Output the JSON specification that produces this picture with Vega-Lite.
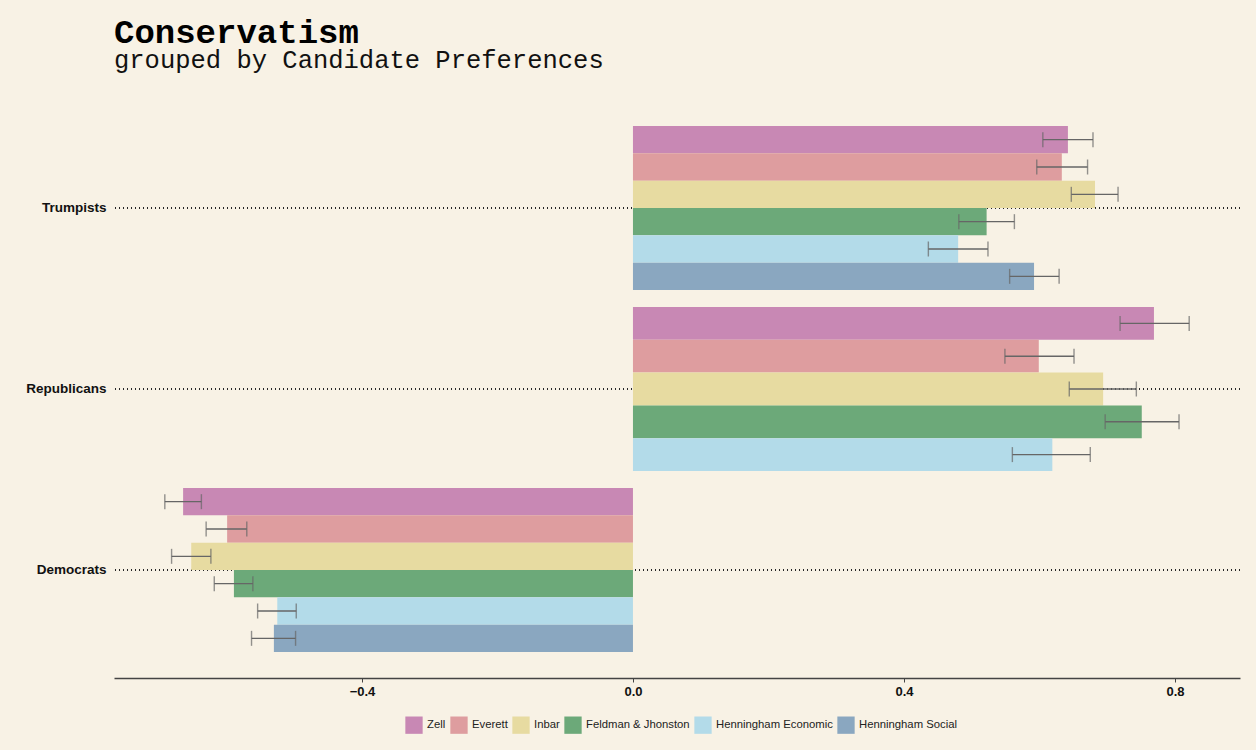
{
  "$schema": "https://vega.github.io/schema/vega-lite/v6.json",
  "background": "#F8F2E5",
  "padding": {"left": 25, "top": 15, "right": 15, "bottom": 16},
  "title": {
    "text": "Conservatism",
    "subtitle": "grouped by Candidate Preferences",
    "anchor": "start",
    "frame": "group",
    "font": "Liberation Mono",
    "fontSize": 34,
    "fontWeight": "bold",
    "color": "#000000",
    "subtitleFont": "Liberation Mono",
    "subtitleFontSize": 25.5,
    "subtitleColor": "#111111",
    "subtitlePadding": -2,
    "offset": 53
  },
  "data": {
    "values": [
      {"group": "Trumpists", "candidate": "Zell", "value": 0.642, "lo": 0.605, "hi": 0.679},
      {"group": "Trumpists", "candidate": "Everett", "value": 0.633, "lo": 0.596, "hi": 0.671},
      {"group": "Trumpists", "candidate": "Inbar", "value": 0.682, "lo": 0.647, "hi": 0.716},
      {"group": "Trumpists", "candidate": "Feldman & Jhonston", "value": 0.522, "lo": 0.481, "hi": 0.563},
      {"group": "Trumpists", "candidate": "Henningham Economic", "value": 0.480, "lo": 0.436, "hi": 0.524},
      {"group": "Trumpists", "candidate": "Henningham Social", "value": 0.592, "lo": 0.556, "hi": 0.629},
      {"group": "Republicans", "candidate": "Zell", "value": 0.769, "lo": 0.719, "hi": 0.821},
      {"group": "Republicans", "candidate": "Everett", "value": 0.599, "lo": 0.549, "hi": 0.651},
      {"group": "Republicans", "candidate": "Inbar", "value": 0.694, "lo": 0.644, "hi": 0.743},
      {"group": "Republicans", "candidate": "Feldman & Jhonston", "value": 0.751, "lo": 0.697, "hi": 0.806},
      {"group": "Republicans", "candidate": "Henningham Economic", "value": 0.619, "lo": 0.560, "hi": 0.675},
      {"group": "Democrats", "candidate": "Zell", "value": -0.664, "lo": -0.691, "hi": -0.637},
      {"group": "Democrats", "candidate": "Everett", "value": -0.599, "lo": -0.630, "hi": -0.570},
      {"group": "Democrats", "candidate": "Inbar", "value": -0.652, "lo": -0.681, "hi": -0.623},
      {"group": "Democrats", "candidate": "Feldman & Jhonston", "value": -0.589, "lo": -0.618, "hi": -0.561},
      {"group": "Democrats", "candidate": "Henningham Economic", "value": -0.525, "lo": -0.554, "hi": -0.497},
      {"group": "Democrats", "candidate": "Henningham Social", "value": -0.530, "lo": -0.563, "hi": -0.498}
    ]
  },
  "facet": {
    "row": {
      "field": "group",
      "type": "nominal",
      "sort": ["Trumpists", "Republicans", "Democrats"],
      "header": {"labels": false, "title": null}
    }
  },
  "spacing": 17,
  "spec": {
    "width": 1126,
    "height": 164,
    "layer": [
      {
        "mark": {"type": "rule", "strokeDash": [1, 3], "color": "#222222", "strokeWidth": 1.2},
        "encoding": {
          "y": {
            "field": "group",
            "type": "nominal",
            "axis": {
              "title": null,
              "domain": false,
              "ticks": false,
              "tickSize": 0,
              "grid": false,
              "labelPadding": 8,
              "labelFont": "Liberation Sans",
              "labelFontSize": 13.5,
              "labelFontWeight": "bold",
              "labelColor": "#111111"
            }
          }
        }
      },
      {
        "layer": [
          {
            "mark": {"type": "bar"},
            "encoding": {
              "y": {
                "field": "candidate",
                "type": "nominal",
                "sort": ["Zell", "Everett", "Inbar", "Feldman & Jhonston", "Henningham Economic", "Henningham Social"],
                "axis": null,
                "scale": {"paddingInner": 0, "paddingOuter": 0}
              },
              "x": {
                "field": "value",
                "type": "quantitative",
                "scale": {"domain": [-0.766, 0.896], "nice": false, "zero": false},
                "axis": {
                  "title": null,
                  "values": [-0.4, 0, 0.4, 0.8],
                  "format": ".1f",
                  "grid": false,
                  "offset": 26,
                  "domainColor": "#444444",
                  "domainWidth": 1.5,
                  "tickColor": "#444444",
                  "tickSize": 4,
                  "labelPadding": 3,
                  "labelFont": "Liberation Sans",
                  "labelFontSize": 13,
                  "labelFontWeight": "bold",
                  "labelColor": "#111111"
                }
              },
              "color": {
                "field": "candidate",
                "type": "nominal",
                "sort": ["Zell", "Everett", "Inbar", "Feldman & Jhonston", "Henningham Economic", "Henningham Social"],
                "scale": {
                  "domain": ["Zell", "Everett", "Inbar", "Feldman & Jhonston", "Henningham Economic", "Henningham Social"],
                  "range": ["#C888B4", "#DE9D9F", "#E7DBA1", "#6CA979", "#B3DBE9", "#8AA7C0"]
                },
                "legend": {
                  "title": null,
                  "orient": "none",
                  "direction": "horizontal",
                  "columns": 6,
                  "legendX": 291,
                  "legendY": 590,
                  "symbolType": "square",
                  "symbolSize": 300,
                  "symbolStrokeWidth": 0,
                  "symbolOpacity": 1,
                  "labelFont": "Liberation Sans",
                  "labelFontSize": 11.3,
                  "labelColor": "#222222",
                  "labelOffset": 4,
                  "columnPadding": 4,
                  "padding": 0
                }
              }
            }
          },
          {
            "mark": {"type": "rule", "color": "#666666", "strokeWidth": 1.4},
            "encoding": {
              "y": {"field": "candidate", "type": "nominal", "sort": ["Zell", "Everett", "Inbar", "Feldman & Jhonston", "Henningham Economic", "Henningham Social"]},
              "x": {"field": "lo", "type": "quantitative"},
              "x2": {"field": "hi"}
            }
          },
          {
            "mark": {"type": "tick", "color": "#666666", "thickness": 1.4, "size": 15, "orient": "vertical"},
            "encoding": {
              "y": {"field": "candidate", "type": "nominal", "sort": ["Zell", "Everett", "Inbar", "Feldman & Jhonston", "Henningham Economic", "Henningham Social"]},
              "x": {"field": "lo", "type": "quantitative"}
            }
          },
          {
            "mark": {"type": "tick", "color": "#666666", "thickness": 1.4, "size": 15, "orient": "vertical"},
            "encoding": {
              "y": {"field": "candidate", "type": "nominal", "sort": ["Zell", "Everett", "Inbar", "Feldman & Jhonston", "Henningham Economic", "Henningham Social"]},
              "x": {"field": "hi", "type": "quantitative"}
            }
          }
        ]
      }
    ],
    "resolve": {"scale": {"y": "independent"}}
  },
  "resolve": {"scale": {"y": "independent"}},
  "config": {
    "view": {"stroke": null},
    "font": "Liberation Sans"
  }
}
